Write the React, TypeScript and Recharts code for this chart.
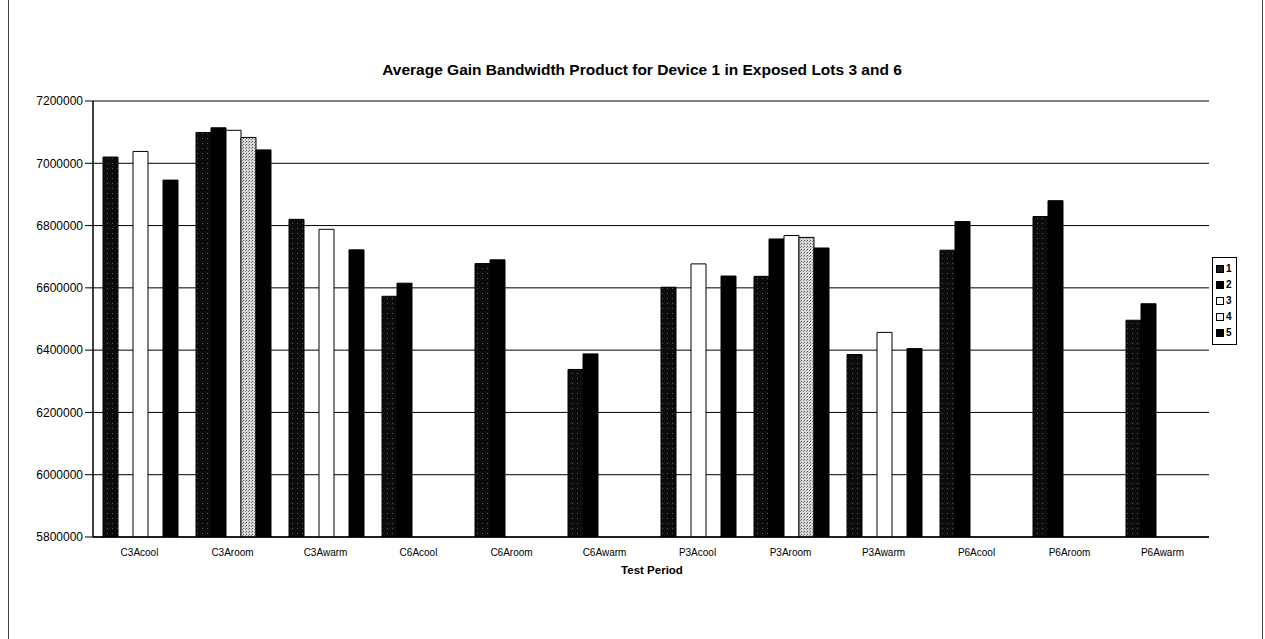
import React from 'react';
import { BarChart, Bar, XAxis, YAxis, CartesianGrid, ReferenceLine } from 'recharts';

const categories = ['C3Acool', 'C3Aroom', 'C3Awarm', 'C6Acool', 'C6Aroom', 'C6Awarm', 'P3Acool', 'P3Aroom', 'P3Awarm', 'P6Acool', 'P6Aroom', 'P6Awarm'];
const series1 = [7020000, 7099000, 6820000, 6573000, 6678000, 6338000, 6602000, 6637000, 6386000, 6721000, 6829000, 6496000];
const series2 = [null, 7114000, null, 6615000, 6690000, 6388000, null, 6757000, null, 6813000, 6880000, 6549000];
const series3 = [7038000, 7106000, 6788000, null, null, null, 6677000, 6768000, 6457000, null, null, null];
const series4 = [null, 7083000, null, null, null, null, null, 6762000, null, null, null, null];
const series5 = [6946000, 7043000, 6722000, null, null, null, 6638000, 6728000, 6405000, null, null, null];
const yTicks = [5800000, 6000000, 6200000, 6400000, 6600000, 6800000, 7000000, 7200000];
const seriesNames = ['1', '2', '3', '4', '5'];
const boundaryTicks = [0, 1, 2, 3, 4, 5, 6, 7, 8, 9, 10, 11, 12];

const data = categories.map((name, i) => ({
  name,
  s1: series1[i],
  s2: series2[i],
  s3: series3[i],
  s4: series4[i],
  s5: series5[i],
}));

const fills = ['url(#pat1)', '#000000', '#ffffff', 'url(#pat4)', '#000000'];
const legendFills = ['#1a1a1a', '#000000', '#ffffff', '#f0f0f0', '#000000'];

const font = 'Arial, "Liberation Sans", Helvetica, sans-serif';

const LegendBox = () => (
  <div
    style={{
      position: 'absolute',
      left: 1212,
      top: 257,
      border: '1px solid #000',
      background: '#fff',
      padding: '3px 4px 3px 3px',
      fontFamily: font,
      fontSize: 10,
      fontWeight: 'bold',
      lineHeight: '16px',
    }}
  >
    {seriesNames.map((n, i) => (
      <div key={n} style={{ display: 'flex', alignItems: 'center' }}>
        <span
          style={{
            display: 'inline-block',
            width: 6,
            height: 6,
            border: '1px solid #000',
            background: legendFills[i],
            marginRight: 2,
          }}
        />
        <span>{n}</span>
      </div>
    ))}
  </div>
);

export default function App() {
  return (
    <div style={{ position: 'absolute', left: 0, top: 0, width: 1265, height: 639, background: '#fff', overflow: 'hidden' }}>
      <div style={{ position: 'absolute', left: 8, top: 0, width: 1253, height: 639, borderLeft: '1px solid #444', borderRight: '1px solid #444' }} />
      <div
        style={{
          position: 'absolute',
          left: 0,
          width: 1284,
          top: 61,
          textAlign: 'center',
          fontFamily: font,
          fontWeight: 'bold',
          fontSize: 15.5,
          color: '#000',
        }}
      >
        Average Gain Bandwidth Product for Device 1 in Exposed Lots 3 and 6
      </div>
      <div
        style={{
          position: 'absolute',
          left: 0,
          width: 1304,
          top: 564,
          textAlign: 'center',
          fontFamily: font,
          fontWeight: 'bold',
          fontSize: 11.5,
          color: '#000',
        }}
      >
        Test Period
      </div>
      <div style={{ position: 'absolute', left: 0, top: 0 }}>
        <BarChart
          width={1265}
          height={639}
          data={data}
          margin={{ top: 101, right: 56, bottom: 72, left: 8 }}
          barCategoryGap={10}
          barGap={0}
        >
          <defs>
            <pattern id="pat1" width="5" height="5" patternUnits="userSpaceOnUse">
              <rect width="5" height="5" fill="#0c0c0c" />
              <rect x="2" y="3" width="1" height="1" fill="#555" />
            </pattern>
            <pattern id="pat4" width="3" height="3" patternUnits="userSpaceOnUse">
              <rect width="3" height="3" fill="#d8d8d8" />
              <rect x="0" y="0" width="1" height="1" fill="#555" />
              <rect x="2" y="1" width="1" height="1" fill="#888" />
            </pattern>
          </defs>
          <CartesianGrid vertical={false} stroke="#000" strokeWidth={1} />
          <XAxis
            xAxisId="b"
            type="number"
            domain={[0, 12]}
            ticks={boundaryTicks}
            allowDataOverflow
            tick={false}
            tickSize={5}
            tickLine={{ stroke: '#000' }}
            axisLine={false}
            height={0}
          />
          <XAxis
            dataKey="name"
            interval={0}
            tickLine={false}
            tickSize={0}
            tickMargin={12}
            height={30}
            axisLine={{ stroke: '#000', strokeWidth: 1.5 }}
            tick={{ fontSize: 10, fill: '#000', fontFamily: font }}
          />
          <YAxis
            domain={[5800000, 7200000]}
            ticks={yTicks}
            interval={0}
            allowDataOverflow
            width={85}
            tickSize={8}
            tickMargin={2}
            axisLine={{ stroke: '#000', strokeWidth: 1.5 }}
            tickLine={{ stroke: '#000' }}
            tick={{ fontSize: 12, fill: '#000', fontFamily: font }}
          />
          <ReferenceLine xAxisId="b" x={12} stroke="#000" strokeWidth={1.5} />
          {['s1', 's2', 's3', 's4', 's5'].map((k, i) => (
            <Bar
              key={k}
              dataKey={k}
              name={seriesNames[i]}
              fill={fills[i]}
              stroke="#000"
              strokeWidth={1}
              isAnimationActive={false}
            />
          ))}
        </BarChart>
      </div>
      <LegendBox />
    </div>
  );
}
